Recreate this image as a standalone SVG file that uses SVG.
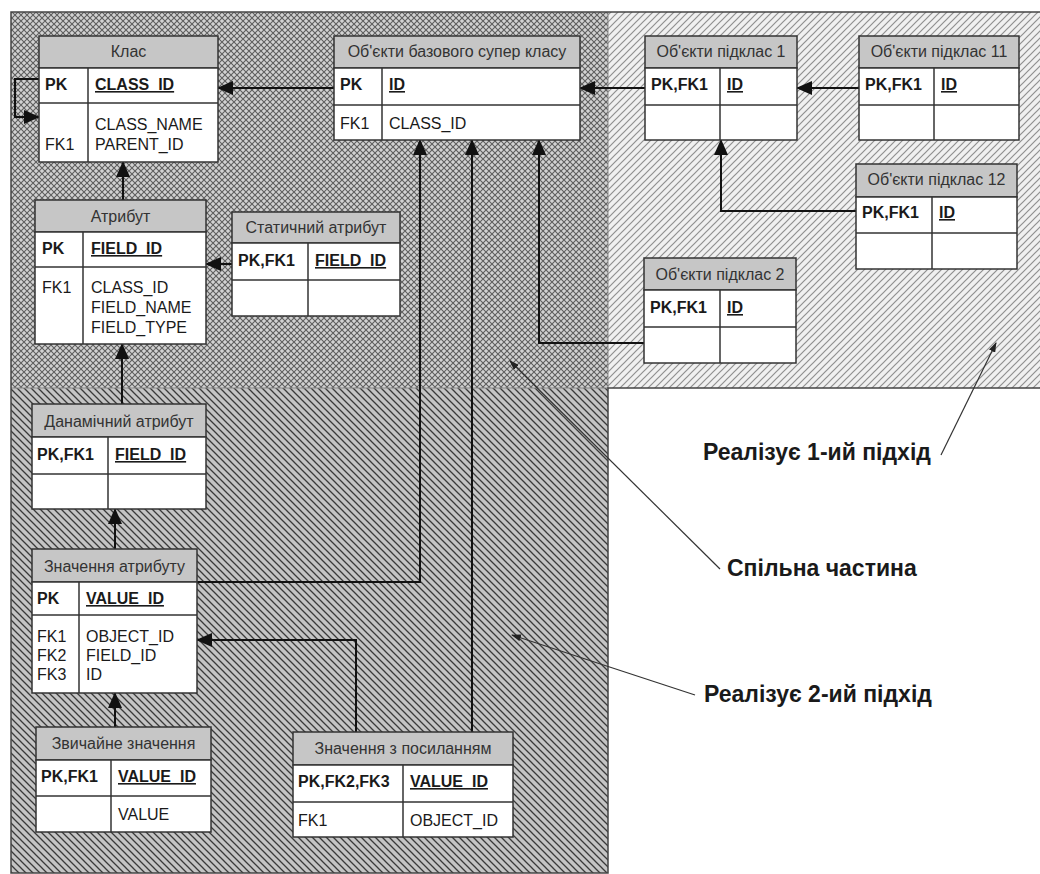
<svg xmlns="http://www.w3.org/2000/svg" width="1040" height="874" viewBox="0 0 1040 874">
<defs>
<pattern id="cross" width="6" height="6" patternUnits="userSpaceOnUse">
<rect width="6" height="6" fill="#d2d2d2"/>
<path d="M0,0 L6,6 M6,0 L0,6" stroke="#5e5e5e" stroke-width="1.1"/>
</pattern>
<pattern id="fwd" width="7" height="7" patternUnits="userSpaceOnUse">
<rect width="7" height="7" fill="#f0f0f0"/>
<path d="M-1,1 L1,-1 M0,7 L7,0 M6,8 L8,6" stroke="#909090" stroke-width="1.2"/>
</pattern>
<pattern id="back" width="7" height="7" patternUnits="userSpaceOnUse">
<rect width="7" height="7" fill="#c4c4c4"/>
<path d="M-1,6 L1,8 M0,0 L7,7 M6,-1 L8,1" stroke="#3a3a3a" stroke-width="1.3"/>
</pattern>
<marker id="ah" markerUnits="userSpaceOnUse" markerWidth="16" markerHeight="14" refX="15" refY="7" orient="auto">
<path d="M0,0 L16,7 L0,14 z" fill="#111"/>
</marker>
<marker id="sh" markerUnits="userSpaceOnUse" markerWidth="10" markerHeight="7" refX="9" refY="3.5" orient="auto">
<path d="M0,0 L10,3.5 L0,7 z" fill="#222"/>
</marker>
<style>
.hdr{fill:#c6c6c6;stroke:#333;stroke-width:1.5}
.body{fill:#fff;stroke:#333;stroke-width:1.5}
.sep{stroke:#333;stroke-width:1.5}
text{font-family:"Liberation Sans",Arial,sans-serif;font-size:16px;fill:#1a1a1a}
.ht{fill:#333;text-anchor:middle}
.b{font-weight:bold}
.u{text-decoration:underline}
.lbl{font-size:23px;font-weight:bold;fill:#1a1a1a}
.con{fill:none;stroke:#111;stroke-width:2;marker-end:url(#ah)}
.ann{fill:none;stroke:#333;stroke-width:1.2;marker-end:url(#sh)}
</style>
</defs>

<g id="regions">
<rect x="11" y="12" width="597" height="376" fill="url(#cross)"/>
<rect x="608" y="12" width="432" height="376" fill="url(#fwd)"/>
<rect x="11" y="388" width="597" height="485" fill="url(#back)"/>
<path d="M608,12 V388 M11,388 H608" stroke="#8a8a8a" stroke-width="1" fill="none"/>
<path d="M1040,12 H11 V873 H608 V388 H1040" stroke="#444" stroke-width="1.5" fill="none"/>
</g>

<g id="connectors">
<path class="con" d="M39,79 H15 V117 H39"/>
<path class="con" d="M334,88 H218"/>
<path class="con" d="M123,200 V162"/>
<path class="con" d="M232,264 H206"/>
<path class="con" d="M122,404 V344"/>
<path class="con" d="M115,549 V509"/>
<path class="con" d="M115,727 V693"/>
<path class="con" d="M356,732 V640 H197"/>
<path class="con" d="M472,732 V140"/>
<path class="con" d="M197,582 H420 V140"/>
<path class="con" d="M645,88 H580"/>
<path class="con" d="M859,88 H797"/>
<path class="con" d="M856,211 H721 V140"/>
<path class="con" d="M644,343 H539 V140"/>
</g>

<g id="annotations">
<path class="ann" d="M941,455 L996,343"/>
<path class="ann" d="M720,569 L510,361"/>
<path class="ann" d="M695,695 L512,635"/>
<text class="lbl" x="703" y="460">Реалізує 1-ий підхід</text>
<text class="lbl" x="727" y="576">Спільна частина</text>
<text class="lbl" x="704" y="702">Реалізує 2-ий підхід</text>
</g>

<g id="klas">
<rect class="hdr" x="39" y="36" width="179" height="32"/>
<rect class="body" x="39" y="68" width="179" height="94"/>
<line class="sep" x1="39" y1="103" x2="218" y2="103"/>
<line class="sep" x1="88" y1="68" x2="88" y2="162"/>
<text class="ht" x="128.5" y="57">Клас</text>
<text class="b" x="45" y="90">PK</text>
<text class="b u" x="95" y="90">CLASS_ID</text>
<text x="95" y="130">CLASS_NAME</text>
<text x="45" y="150">FK1</text>
<text x="95" y="150">PARENT_ID</text>
</g>

<g id="super">
<rect class="hdr" x="334" y="36" width="246" height="32"/>
<rect class="body" x="334" y="68" width="246" height="72"/>
<line class="sep" x1="334" y1="105" x2="580" y2="105"/>
<line class="sep" x1="382" y1="68" x2="382" y2="140"/>
<text class="ht" x="457" y="57">Об'єкти базового супер класу</text>
<text class="b" x="340" y="90">PK</text>
<text class="b u" x="389" y="90">ID</text>
<text x="340" y="129">FK1</text>
<text x="389" y="129">CLASS_ID</text>
</g>

<g id="sub1">
<rect class="hdr" x="645" y="36" width="152" height="32"/>
<rect class="body" x="645" y="68" width="152" height="72"/>
<line class="sep" x1="645" y1="105" x2="797" y2="105"/>
<line class="sep" x1="720" y1="68" x2="720" y2="140"/>
<text class="ht" x="721" y="57">Об'єкти підклас 1</text>
<text class="b" x="651" y="90">PK,FK1</text>
<text class="b u" x="727" y="90">ID</text>
</g>

<g id="sub11">
<rect class="hdr" x="859" y="36" width="160" height="32"/>
<rect class="body" x="859" y="68" width="160" height="72"/>
<line class="sep" x1="859" y1="105" x2="1019" y2="105"/>
<line class="sep" x1="934" y1="68" x2="934" y2="140"/>
<text class="ht" x="939" y="57">Об'єкти підклас 11</text>
<text class="b" x="865" y="90">PK,FK1</text>
<text class="b u" x="941" y="90">ID</text>
</g>

<g id="sub12">
<rect class="hdr" x="856" y="164" width="161" height="33"/>
<rect class="body" x="856" y="197" width="161" height="72"/>
<line class="sep" x1="856" y1="233" x2="1017" y2="233"/>
<line class="sep" x1="932" y1="197" x2="932" y2="269"/>
<text class="ht" x="936.5" y="185">Об'єкти підклас 12</text>
<text class="b" x="862" y="218">PK,FK1</text>
<text class="b u" x="939" y="218">ID</text>
</g>

<g id="sub2">
<rect class="hdr" x="644" y="258" width="152" height="32"/>
<rect class="body" x="644" y="290" width="152" height="73"/>
<line class="sep" x1="644" y1="327" x2="796" y2="327"/>
<line class="sep" x1="720" y1="290" x2="720" y2="363"/>
<text class="ht" x="720" y="280">Об'єкти підклас 2</text>
<text class="b" x="650" y="313">PK,FK1</text>
<text class="b u" x="727" y="313">ID</text>
</g>

<g id="atrybut">
<rect class="hdr" x="35" y="200" width="171" height="32"/>
<rect class="body" x="35" y="232" width="171" height="112"/>
<line class="sep" x1="35" y1="267" x2="206" y2="267"/>
<line class="sep" x1="83" y1="232" x2="83" y2="344"/>
<text class="ht" x="120.5" y="222">Атрибут</text>
<text class="b" x="42" y="254">PK</text>
<text class="b u" x="91" y="254">FIELD_ID</text>
<text x="42" y="293">FK1</text>
<text x="91" y="293">CLASS_ID</text>
<text x="91" y="313">FIELD_NAME</text>
<text x="91" y="333">FIELD_TYPE</text>
</g>

<g id="static">
<rect class="hdr" x="232" y="212" width="168" height="31"/>
<rect class="body" x="232" y="243" width="168" height="73"/>
<line class="sep" x1="232" y1="280" x2="400" y2="280"/>
<line class="sep" x1="308" y1="243" x2="308" y2="316"/>
<text class="ht" x="316" y="233">Статичний атрибут</text>
<text class="b" x="238" y="266">PK,FK1</text>
<text class="b u" x="315" y="266">FIELD_ID</text>
</g>

<g id="dynamic">
<rect class="hdr" x="32" y="404" width="174" height="33"/>
<rect class="body" x="32" y="437" width="174" height="72"/>
<line class="sep" x1="32" y1="474" x2="206" y2="474"/>
<line class="sep" x1="108" y1="437" x2="108" y2="509"/>
<text class="ht" x="119" y="427">Данамічний атрибут</text>
<text class="b" x="37" y="460">PK,FK1</text>
<text class="b u" x="115" y="460">FIELD_ID</text>
</g>

<g id="value">
<rect class="hdr" x="32" y="549" width="165" height="33"/>
<rect class="body" x="32" y="582" width="165" height="111"/>
<line class="sep" x1="32" y1="615" x2="197" y2="615"/>
<line class="sep" x1="79" y1="582" x2="79" y2="693"/>
<text class="ht" x="114.5" y="572">Значення атрибуту</text>
<text class="b" x="37" y="604">PK</text>
<text class="b u" x="86" y="604">VALUE_ID</text>
<text x="37" y="642">FK1</text>
<text x="86" y="642">OBJECT_ID</text>
<text x="37" y="661">FK2</text>
<text x="86" y="661">FIELD_ID</text>
<text x="37" y="680">FK3</text>
<text x="86" y="680">ID</text>
</g>

<g id="plain">
<rect class="hdr" x="36" y="727" width="175" height="33"/>
<rect class="body" x="36" y="760" width="175" height="72"/>
<line class="sep" x1="36" y1="796" x2="211" y2="796"/>
<line class="sep" x1="111" y1="760" x2="111" y2="832"/>
<text class="ht" x="123.5" y="749">Звичайне значення</text>
<text class="b" x="41" y="782">PK,FK1</text>
<text class="b u" x="118" y="782">VALUE_ID</text>
<text x="118" y="820">VALUE</text>
</g>

<g id="ref">
<rect class="hdr" x="293" y="732" width="220" height="33"/>
<rect class="body" x="293" y="765" width="220" height="72"/>
<line class="sep" x1="293" y1="802" x2="513" y2="802"/>
<line class="sep" x1="403" y1="765" x2="403" y2="837"/>
<text class="ht" x="403" y="754">Значення з посиланням</text>
<text class="b" x="298" y="787">PK,FK2,FK3</text>
<text class="b u" x="410" y="787">VALUE_ID</text>
<text x="298" y="826">FK1</text>
<text x="410" y="826">OBJECT_ID</text>
</g>
</svg>
